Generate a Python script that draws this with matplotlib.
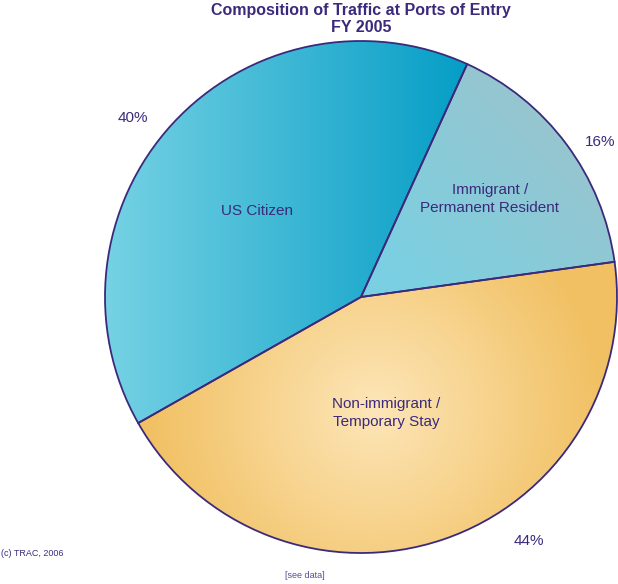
import numpy as np
import matplotlib
matplotlib.use("Agg")
import matplotlib.pyplot as plt

# data
categories = ["US Citizen", "Non-immigrant /\nTemporary Stay", "Immigrant /\nPermanent Resident"]
shares = [40, 44, 16]
pct_labels = ["40%", "44%", "16%"]

ink = "#3b2a7c"
W, H = 618, 584
cx, cy, R = 361, 584 - 297, 256

fig = plt.figure(figsize=(W / 100, H / 100), dpi=100)
ax = fig.add_axes([0, 0, 1, 1])

wedges, _ = ax.pie(shares, center=(cx, cy), radius=R, startangle=65.5,
                   counterclock=True, frame=True,
                   wedgeprops=dict(facecolor="none", edgecolor=ink, linewidth=1.3, zorder=5))
ax.set_xlim(0, W)
ax.set_ylim(0, H)
ax.set_aspect("auto")
ax.axis("off")

xx, yy = np.meshgrid(np.linspace(0, W, W), np.linspace(H, 0, H))

def lerp(c0, c1, t):
    c0 = np.array(c0) / 255.0
    c1 = np.array(c1) / 255.0
    t = np.clip(t, 0, 1)[..., None]
    return c0 + (c1 - c0) * t

# US citizen: horizontal gradient light -> dark cyan
t = (xx - 105) / (465 - 105)
img_us = lerp((118, 210, 228), (6, 158, 198), t)
# non-immigrant: radial gradient cream -> orange
d = np.hypot(xx - 375, yy - (584 - 410)) / 230
img_non = lerp((253, 230, 184), (241, 192, 98), d)
# immigrant: diagonal gradient
t2 = ((xx - 420) + (yy - (584 - 300))) / 300
img_imm = lerp((122, 208, 226), (150, 198, 208), t2)

for w, img in zip(wedges, [img_us, img_non, img_imm]):
    im = ax.imshow(img, extent=(0, W, 0, H), origin="upper", zorder=1, aspect="auto")
    im.set_clip_path(w)

fs = 11
fam = "Liberation Sans"
ax.text(257, H - 211, categories[0], ha="center", va="center", color=ink, fontsize=fs, family=fam)
ax.text(490, H - 199, categories[2], ha="center", va="center", color=ink, fontsize=fs,
        family=fam, linespacing=1.4)
ax.text(386, H - 413, categories[1], ha="center", va="center", color=ink, fontsize=fs,
        family=fam, linespacing=1.4)
ax.text(133, H - 118, pct_labels[0], ha="center", va="center", color=ink, fontsize=fs, family=fam)
ax.text(529, H - 541, pct_labels[1], ha="center", va="center", color=ink, fontsize=fs, family=fam)
ax.text(600, H - 142, pct_labels[2], ha="center", va="center", color=ink, fontsize=fs, family=fam)

ax.text(361, H - 10, "Composition of Traffic at Ports of Entry", ha="center", va="center",
        color=ink, fontsize=11.5, fontweight="bold", family=fam)
ax.text(361, H - 28, "FY 2005", ha="center", va="center",
        color=ink, fontsize=11.5, fontweight="bold", family=fam)

ax.text(1, H - 554, "(c) TRAC, 2006", ha="left", va="center", color=ink, fontsize=6.5, family=fam)
ax.text(305, H - 575, "[see data]", ha="center", va="center", color="#5a4a96", fontsize=6.5, family=fam)

fig.savefig("out.png", dpi=100)
